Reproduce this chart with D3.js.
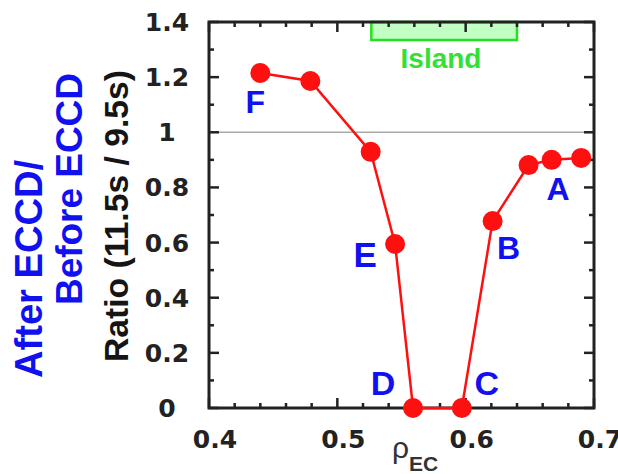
<!DOCTYPE html>
<html>
<head>
<meta charset="UTF-8">
<style>
  body { margin: 0; background: #fff; }
  svg { display: block; font-family: "Liberation Sans", Arial, sans-serif; }
  .tick-label { font-family: "DejaVu Sans", sans-serif; font-size: 25px; font-weight: bold; fill: #222; }
  .letter { font-weight: bold; fill: #1010f0; text-anchor: middle; }
</style>
</head>
<body>
<svg id="chart" width="618" height="474"></svg>
<script src="https://d3js.org/d3.v7.min.js"></script>
<script>
  // data
  const rho = [0.440, 0.479, 0.526, 0.545, 0.559, 0.597, 0.621, 0.649, 0.667, 0.690];
  const ratio = [1.215, 1.186, 0.929, 0.595, 0, 0, 0.678, 0.881, 0.900, 0.907];
  const letterNames = ["F", "E", "D", "C", "B", "A"];
  const letterIndex = [0, 3, 4, 5, 6, 9];
  const xTicks = [0.4, 0.5, 0.6, 0.7];
  const yTicks = [0, 0.2, 0.4, 0.6, 0.8, 1, 1.2, 1.4];
  const island = [0.5265, 0.640];

  // where each letter sits relative to its point (dx, baseline dy, font size)
  const letterLayout = {
    F: [-5, 40, 32], E: [-30, 23, 35], D: [-30, -13, 34],
    C: [25, -13, 34], B: [16, 38, 32], A: [-23, 42, 32]
  };

  const svg = d3.select("#chart");
  const x = d3.scaleLinear().domain([0.4, 0.7]).range([209, 594]);
  const y = d3.scaleLinear().domain([0, 1.4]).range([408, 22]);

  // island band
  svg.append("rect")
    .attr("x", x(island[0])).attr("y", y(1.4))
    .attr("width", x(island[1]) - x(island[0]))
    .attr("height", 18)
    .attr("fill", "#c2ffc2").attr("stroke", "#22e022").attr("stroke-width", 2.5);
  svg.append("text")
    .attr("x", 441).attr("y", 68)
    .attr("text-anchor", "middle")
    .attr("font-size", 28).attr("font-weight", "bold").attr("fill", "#33e033")
    .text("Island");

  // reference line at 1
  svg.append("line")
    .attr("x1", x(0.4)).attr("x2", x(0.7))
    .attr("y1", y(1)).attr("y2", y(1))
    .attr("stroke", "#aaa").attr("stroke-width", 1.5);

  // ticks, minor and major, on all four sides
  const g = svg.append("g").attr("stroke", "#222").attr("stroke-width", 2.5);
  d3.range(0.4, 0.7001, 0.02).forEach(v => {
    const major = Math.abs(v * 10 - Math.round(v * 10)) < 1e-6;
    const len = major ? 10 : 5;
    g.append("line").attr("x1", x(v)).attr("x2", x(v)).attr("y1", y(0)).attr("y2", y(0) - len);
    g.append("line").attr("x1", x(v)).attr("x2", x(v)).attr("y1", y(1.4)).attr("y2", y(1.4) + len);
  });
  d3.range(0, 1.4001, 0.1).forEach((v, i) => {
    const len = i % 2 === 0 ? 10 : 5;
    g.append("line").attr("y1", y(v)).attr("y2", y(v)).attr("x1", x(0.4)).attr("x2", x(0.4) + len);
    g.append("line").attr("y1", y(v)).attr("y2", y(v)).attr("x1", x(0.7)).attr("x2", x(0.7) - len);
  });
  svg.append("rect")
    .attr("x", x(0.4)).attr("y", y(1.4))
    .attr("width", x(0.7) - x(0.4)).attr("height", y(0) - y(1.4))
    .attr("fill", "none").attr("stroke", "#222").attr("stroke-width", 3);

  // tick labels
  svg.selectAll(".xl").data(xTicks).join("text")
    .attr("class", "tick-label")
    .attr("x", d => x(d) + 6).attr("y", 448)
    .attr("text-anchor", "middle")
    .text(d => d3.format(".1f")(d));
  svg.selectAll(".yl").data(yTicks).join("text")
    .attr("class", "tick-label")
    .attr("x", 167).attr("y", d => y(d) + 9)
    .attr("text-anchor", "middle")
    .text(d => d === 0 || d === 1 ? d : d3.format(".1f")(d));

  // axis titles
  const xt = svg.append("text").attr("x", 392).attr("y", 458)
    .attr("font-size", 30).attr("fill", "#333");
  xt.append("tspan").text("ρ");
  xt.append("tspan").attr("dy", 13).attr("font-size", 21).attr("font-weight", "bold").text("EC");

  svg.append("text")
    .attr("transform", "translate(128,216) rotate(-90)")
    .attr("text-anchor", "middle")
    .attr("font-size", 34).attr("font-weight", "bold").attr("fill", "#151515")
    .attr("textLength", 292).attr("lengthAdjust", "spacingAndGlyphs")
    .text("Ratio (11.5s / 9.5s)");
  svg.append("text")
    .attr("transform", "translate(82,189) rotate(-90)")
    .attr("text-anchor", "middle")
    .attr("font-size", 37).attr("font-weight", "bold").attr("fill", "#1010f0")
    .attr("textLength", 232).attr("lengthAdjust", "spacingAndGlyphs")
    .text("Before ECCD");
  svg.append("text")
    .attr("transform", "translate(42,269) rotate(-90)")
    .attr("text-anchor", "middle")
    .attr("font-size", 38).attr("font-weight", "bold").attr("fill", "#1010f0")
    .attr("textLength", 218).attr("lengthAdjust", "spacingAndGlyphs")
    .text("After ECCD/");

  // data line and markers
  const pts = rho.map((r, i) => [r, ratio[i]]);
  svg.append("path")
    .datum(pts)
    .attr("fill", "none").attr("stroke", "#ff1010").attr("stroke-width", 2.5)
    .attr("d", d3.line().x(d => x(d[0])).y(d => y(d[1])));
  svg.selectAll(".pt").data(pts).join("circle")
    .attr("cx", d => x(d[0])).attr("cy", d => y(d[1])).attr("r", 10)
    .attr("fill", "#ff1010");

  // point letters
  svg.selectAll(".letter").data(letterNames).join("text")
    .attr("class", "letter")
    .attr("x", (d, i) => x(rho[letterIndex[i]]) + letterLayout[d][0])
    .attr("y", (d, i) => y(ratio[letterIndex[i]]) + letterLayout[d][1])
    .attr("font-size", d => letterLayout[d][2])
    .text(d => d);
</script>
</body>
</html>
